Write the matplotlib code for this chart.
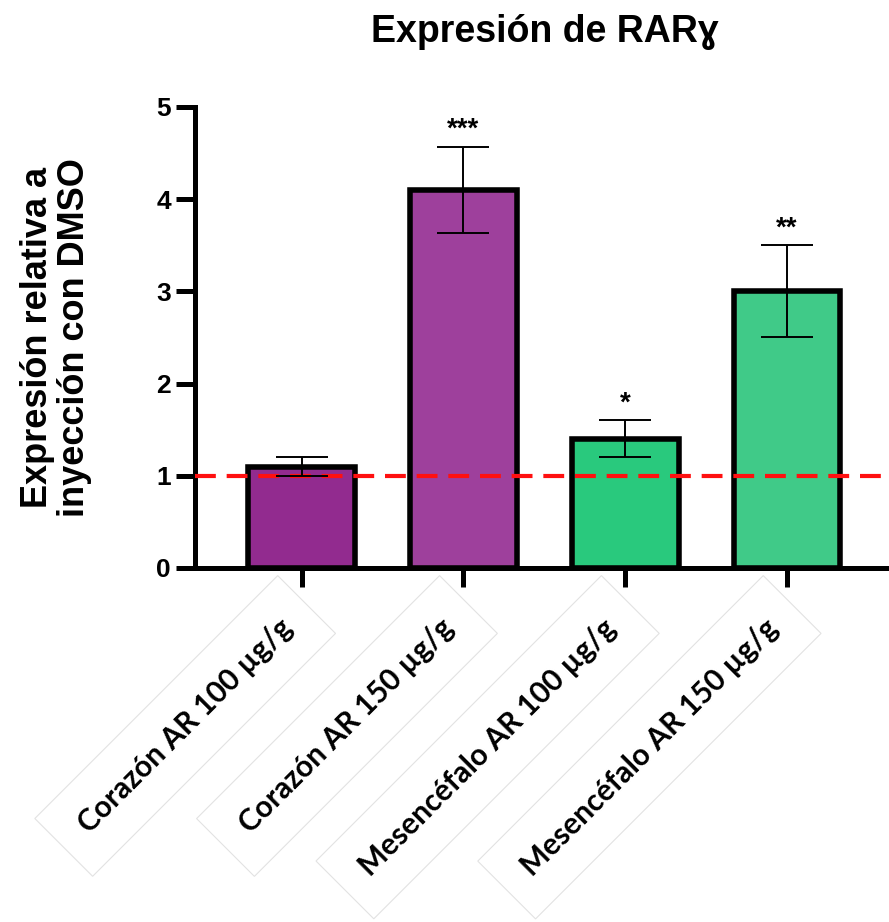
import matplotlib
matplotlib.use("Agg")
import matplotlib.pyplot as plt
import numpy as np

# Data
categories = ["Corazón AR 100 µg/g", "Corazón AR 150 µg/g",
              "Mesencéfalo AR 100 µg/g", "Mesencéfalo AR 150 µg/g"]
values = [1.1, 4.1, 1.4, 3.0]
errors = [0.1, 0.47, 0.2, 0.5]
stars = ["", "***", "*", "**"]
colors = ["#922B8F", "#9E409C", "#29C97D", "#40CA88"]
yticks = [0, 1, 2, 3, 4, 5]
baseline = 1.0

plt.rcParams["font.family"] = ["Liberation Sans", "DejaVu Sans"]

fig = plt.figure(figsize=(8.89, 9.22), dpi=100)
ax = fig.add_axes([0.219, 0.384, 0.781, 0.500])

x = np.arange(len(categories))
ax.bar(x, values, width=0.66, color=colors, edgecolor="black",
       linewidth=4, zorder=2)
ax.errorbar(x, values, yerr=errors, fmt="none", ecolor="black",
            elinewidth=1.4, capsize=19, capthick=1.4, zorder=4)
ax.axhline(baseline, color="#FF1010", linestyle=(0, (5, 2.6)),
           linewidth=3, zorder=3)

for xi, v, e, s in zip(x, values, errors, stars):
    if s:
        ax.text(xi, v + e + 0.04, s, ha="center", va="bottom",
                fontsize=20, fontweight="bold")

ax.set_xlim(-0.66, 3.63)
ax.set_ylim(0, 5)
ax.set_yticks(yticks)
ax.set_yticklabels([str(t) for t in yticks], fontsize=19, fontweight="bold")
ax.set_xticks(x)
ax.set_xticklabels([])

for side in ("top", "right"):
    ax.spines[side].set_visible(False)
for side in ("left", "bottom"):
    ax.spines[side].set_linewidth(3.6)
ax.tick_params(axis="both", width=3.6, length=14, pad=3)

# Rotated category labels in light boxes
for xi, lab in zip(x, categories):
    ax.annotate(lab, xy=(xi, 0), xycoords=("data", "axes fraction"),
                xytext=(-10, -40), textcoords="offset points",
                rotation=45, rotation_mode="anchor", ha="right", va="center",
                fontsize=21.5, fontweight="bold", family=["Lato", "DejaVu Sans"],
                annotation_clip=False,
                bbox=dict(boxstyle="square,pad=0.9", fc="white",
                          ec="#E2E2E2", lw=0.8))

ax.set_ylabel("Expresión relativa a\ninyección con DMSO", fontsize=26,
              fontweight="bold", labelpad=46, linespacing=1.1)

fig.text(0.613, 0.965, "Expresión de RARɣ", ha="center", va="center",
         fontsize=27, fontweight="bold")

fig.savefig("out.png", dpi=100, facecolor="white")
